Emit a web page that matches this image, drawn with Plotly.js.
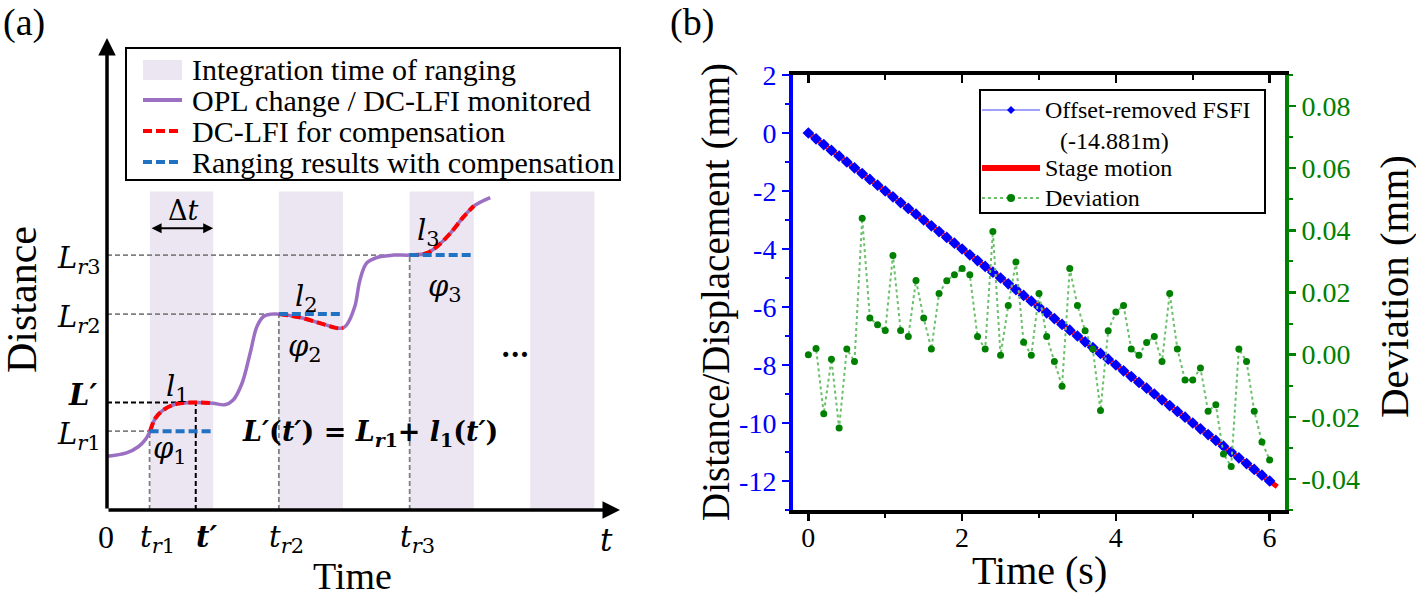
<!DOCTYPE html>
<html>
<head>
<meta charset="utf-8">
<script src="https://cdn.plot.ly/plotly-3.0.1.min.js"></script>
<style>
  html, body { margin: 0; padding: 0; background: #fff; }
  #chart { width: 1416px; height: 599px; }
</style>
</head>
<body>
<div id="chart"></div>
<script>
// ---- panel (a): schematic, OPL change vs time (arbitrary units) ----
const schemeTime = [0, 0.38, 0.61, 0.74, 0.84, 0.94, 1.10, 1.36, 1.73, 2.07, 2.30, 2.46, 2.63, 2.79, 2.92, 3.05, 3.20, 3.35,
  3.76, 4.15, 4.51, 4.60, 4.67, 4.83, 4.93, 5.06, 5.26, 5.58, 5.90, 6.23, 6.43, 6.69, 6.95, 7.15, 7.47];
const schemeDist = [1.14, 1.21, 1.34, 1.48, 1.67, 1.94, 2.12, 2.25, 2.28, 2.26, 2.23, 2.33, 2.68, 3.32, 3.88, 4.10, 4.15, 4.15,
  4.08, 3.96, 3.85, 3.86, 3.92, 4.31, 4.87, 5.23, 5.35, 5.40, 5.40, 5.44, 5.58, 5.86, 6.21, 6.44, 6.62];
const bandStart = [0.84, 3.35, 5.9, 8.25];
const bandEnd = [2.07, 4.6, 7.15, 9.5];
const bandTop = 6.75;
const rangingTime = [0.83, 3.35, 5.9];
const rangingLevel = [1.67, 4.15, 5.40];
const primeTime = 1.73;
const primeLevel = 2.28;

// ---- panel (b): measured data ----
const time = [0, 0.1, 0.2, 0.3, 0.4, 0.5, 0.6, 0.7, 0.8, 0.9, 1.0, 1.1, 1.2, 1.3, 1.4, 1.5, 1.6, 1.7, 1.8, 1.9,
  2.0, 2.1, 2.2, 2.3, 2.4, 2.5, 2.6, 2.7, 2.8, 2.9, 3.0, 3.1, 3.2, 3.3, 3.4, 3.5, 3.6, 3.7, 3.8, 3.9,
  4.0, 4.1, 4.2, 4.3, 4.4, 4.5, 4.6, 4.7, 4.8, 4.9, 5.0, 5.1, 5.2, 5.3, 5.4, 5.5, 5.6, 5.7, 5.8, 5.9, 6.0];
const fsfiDist = [0, -0.2, -0.4, -0.6, -0.8, -1.0, -1.2, -1.4, -1.6, -1.8, -2.0, -2.2, -2.4, -2.6, -2.8, -3.0, -3.2, -3.4, -3.6, -3.8,
  -4.0, -4.2, -4.4, -4.6, -4.8, -5.0, -5.2, -5.4, -5.6, -5.8, -6.0, -6.2, -6.4, -6.6, -6.8, -7.0, -7.2, -7.4, -7.6, -7.8,
  -8.0, -8.2, -8.4, -8.6, -8.8, -9.0, -9.2, -9.4, -9.6, -9.8, -10.0, -10.2, -10.4, -10.6, -10.8, -11.0, -11.2, -11.4, -11.6, -11.8, -12.0];
const stageTime = [0, 6.1];
const stageDist = [0, -12.2];
const deviation = [0.000, 0.002, -0.019, -0.0015, -0.0236, 0.0018, -0.0022, 0.0439, 0.0118, 0.0096,
  0.0078, 0.0319, 0.0078, 0.0058, 0.0239, 0.0118, 0.0018, 0.0197, 0.0238, 0.0257,
  0.0277, 0.0257, 0.0058, 0.0018, 0.0396, -0.0002, 0.0158, 0.0298, 0.0040, -0.0002,
  0.0197, 0.0058, -0.0022, -0.0102, 0.0277, 0.0158, 0.0077, 0.0018, -0.0180, 0.0077,
  0.0137, 0.0158, 0.0018, -0.0002, 0.0039, 0.0058, -0.0022, 0.0197, 0.0018, -0.0082,
  -0.0082, -0.0043, -0.0182, -0.0161, -0.0320, -0.0360, 0.0018, -0.0022, -0.0182, -0.0281, -0.0339];

const leftTicks = [2, 0, -2, -4, -6, -8, -10, -12];
const leftTickText = ['2', '0', '-2', '-4', '-6', '-8', '-10', '-12'];
const rightTicks = [0.08, 0.06, 0.04, 0.02, 0, -0.02, -0.04];
const rightTickText = ['0.08', '0.06', '0.04', '0.02', '0.00', '-0.02', '-0.04'];

// colours
const PURPLE = '#9b6fc2', BAND = '#ece6f2', DASHRED = '#ff0000', DASHBLUE = '#2272c3';
const BLUE = '#0000ff', GREEN = '#008000';

// page pixel -> paper fraction
const W = 1416, H = 599;
const px = x => x / W;
const py = y => 1 - y / H;

const serif = '"Liberation Serif", "Times New Roman", serif';
const math = '"DejaVu Serif", serif';

// ---------- traces ----------
const traces = [];

traces.push({
  x: schemeTime, y: schemeDist, xaxis: 'x2', yaxis: 'y2', type: 'scatter', mode: 'lines',
  line: { color: PURPLE, width: 3.5, shape: 'spline' }, hoverinfo: 'skip'
});

for (let i = 0; i < rangingTime.length; i++) {
  const seg = schemeTime.map((t, k) => k).filter(k => schemeTime[k] >= rangingTime[i] - 1e-9 && schemeTime[k] <= bandEnd[i] + 1e-9);
  traces.push({
    x: seg.map(k => schemeTime[k]), y: seg.map(k => schemeDist[k]), xaxis: 'x2', yaxis: 'y2',
    type: 'scatter', mode: 'lines',
    line: { color: DASHRED, width: 4, dash: '9px,4px', shape: 'spline' }, hoverinfo: 'skip'
  });
  traces.push({
    x: [rangingTime[i], bandEnd[i]], y: [rangingLevel[i], rangingLevel[i]], xaxis: 'x2', yaxis: 'y2',
    type: 'scatter', mode: 'lines',
    line: { color: DASHBLUE, width: 4, dash: '9px,4px' }, hoverinfo: 'skip'
  });
}

traces.push({
  x: time, y: deviation, xaxis: 'x', yaxis: 'y3', type: 'scatter', mode: 'lines+markers',
  line: { color: '#6cc06c', width: 2, dash: 'dot' },
  marker: { symbol: 'circle', size: 7, color: GREEN }
});
traces.push({
  x: stageTime, y: stageDist, xaxis: 'x', yaxis: 'y', type: 'scatter', mode: 'lines',
  line: { color: '#ff0000', width: 5 }
});
traces.push({
  x: time, y: fsfiDist, xaxis: 'x', yaxis: 'y', type: 'scatter', mode: 'lines+markers',
  line: { color: '#8080ff', width: 1 },
  marker: { symbol: 'diamond', size: 9, color: BLUE }
});
// empty trace so the top mirror axis gets drawn
traces.push({ x: [], y: [], xaxis: 'x3', yaxis: 'y', type: 'scatter' });

// ---------- shapes ----------
const shapes = [];
bandStart.forEach((s, i) => shapes.push({
  type: 'rect', xref: 'x2', yref: 'y2', x0: s, x1: bandEnd[i], y0: 0, y1: bandTop,
  fillcolor: BAND, line: { width: 0 }, layer: 'below'
}));
const guide = { color: '#7f7f7f', width: 1.8, dash: '5px,3px' };
rangingTime.forEach((t, i) => {
  shapes.push({ type: 'line', xref: 'x2', yref: 'y2', x0: 0, x1: t, y0: rangingLevel[i], y1: rangingLevel[i], line: guide, layer: 'below' });
  shapes.push({ type: 'line', xref: 'x2', yref: 'y2', x0: t, x1: t, y0: 0, y1: rangingLevel[i], line: guide, layer: 'below' });
});
const guideBlack = { color: '#000', width: 2, dash: '5px,3px' };
shapes.push({ type: 'line', xref: 'x2', yref: 'y2', x0: 0, x1: primeTime, y0: primeLevel, y1: primeLevel, line: guideBlack, layer: 'below' });
shapes.push({ type: 'line', xref: 'x2', yref: 'y2', x0: primeTime, x1: primeTime, y0: 0, y1: primeLevel, line: guideBlack, layer: 'below' });

// legend (a)
shapes.push({ type: 'rect', xref: 'paper', yref: 'paper', x0: px(126), x1: px(620), y0: py(180), y1: py(48), line: { color: '#000', width: 2 } });
shapes.push({ type: 'rect', xref: 'paper', yref: 'paper', x0: px(143), x1: px(182), y0: py(80), y1: py(60), fillcolor: BAND, line: { width: 0 } });
shapes.push({ type: 'line', xref: 'paper', yref: 'paper', x0: px(143), x1: px(182), y0: py(100), y1: py(100), line: { color: PURPLE, width: 4 } });
shapes.push({ type: 'line', xref: 'paper', yref: 'paper', x0: px(143), x1: px(182), y0: py(131), y1: py(131), line: { color: DASHRED, width: 4, dash: '9px,4px' } });
shapes.push({ type: 'line', xref: 'paper', yref: 'paper', x0: px(143), x1: px(182), y0: py(162), y1: py(162), line: { color: DASHBLUE, width: 4, dash: '9px,4px' } });

// legend (b)
shapes.push({ type: 'rect', xref: 'paper', yref: 'paper', x0: px(980), x1: px(1265), y0: py(213), y1: py(90), line: { color: '#000', width: 2 }, fillcolor: '#fff' });
shapes.push({ type: 'line', xref: 'paper', yref: 'paper', x0: px(982), x1: px(1040), y0: py(110), y1: py(110), line: { color: '#8080ff', width: 1.5 } });
shapes.push({ type: 'path', xref: 'paper', yref: 'paper',
  path: `M ${px(1011)} ${py(106)} L ${px(1015)} ${py(110)} L ${px(1011)} ${py(114)} L ${px(1007)} ${py(110)} Z`,
  fillcolor: BLUE, line: { width: 0 } });
shapes.push({ type: 'line', xref: 'paper', yref: 'paper', x0: px(982), x1: px(1040), y0: py(168), y1: py(168), line: { color: '#ff0000', width: 6 } });
shapes.push({ type: 'line', xref: 'paper', yref: 'paper', x0: px(982), x1: px(1040), y0: py(198), y1: py(198), line: { color: '#6cc06c', width: 2, dash: 'dot' } });
shapes.push({ type: 'circle', xref: 'paper', yref: 'paper', x0: px(1007), x1: px(1015), y0: py(202), y1: py(194), fillcolor: GREEN, line: { width: 0 } });

// ---------- annotations ----------
const ann = [];
const txt = (x, y, text, size, extra) => Object.assign({
  xref: 'paper', yref: 'paper', x: px(x), y: py(y), text: text, showarrow: false,
  xanchor: 'center', yanchor: 'middle',
  font: { family: serif, size: size, color: '#000' }
}, extra || {});

ann.push(txt(24, 23, '(a)', 38));
ann.push(txt(692, 23, '(b)', 38));

// axis arrows of the schematic
ann.push({ xref: 'x2', yref: 'y2', axref: 'x2', ayref: 'y2', x: 10, y: 0, ax: 0, ay: 0, text: '',
  showarrow: true, arrowhead: 2, arrowsize: 1, arrowwidth: 3.5, arrowcolor: '#000' });
ann.push({ xref: 'x2', yref: 'y2', axref: 'x2', ayref: 'y2', x: 0, y: 10, ax: 0, ay: 0, text: '',
  showarrow: true, arrowhead: 2, arrowsize: 1, arrowwidth: 3.5, arrowcolor: '#000' });
// Δt arrow
ann.push({ xref: 'x2', yref: 'y2', axref: 'x2', ayref: 'y2', x: bandEnd[0], y: 5.97, ax: bandStart[0], ay: 5.97, text: '',
  showarrow: true, arrowhead: 2, startarrowhead: 2, arrowside: 'end+start', arrowsize: 1, startarrowsize: 1,
  arrowwidth: 2, arrowcolor: '#000' });

const dtext = (x, y, text, size, extra) => Object.assign({
  xref: 'x2', yref: 'y2', x: x, y: y, text: text, showarrow: false,
  xanchor: 'center', yanchor: 'middle',
  font: { family: math, size: size, color: '#000' }
}, extra || {});
const sub = s => `<sub><span style="font-size:21px">${s}</span></sub>`;

rangingLevel.forEach((L, i) => ann.push(dtext(0, L, `<i>L</i>${sub('<i>r</i>' + (i + 1))}`, 29, { xanchor: 'right', xshift: -4, yshift: -5 })));
ann.push(dtext(0, primeLevel, '<b><i>L′</i></b>', 29, { xanchor: 'right', xshift: -8, yshift: 7 }));

ann.push(txt(106, 537, '0', 32));
rangingTime.forEach((t, i) => ann.push(dtext(t, 0, `<i>t</i>${sub('<i>r</i>' + (i + 1))}`, 29, { xanchor: 'left', yanchor: 'top', xshift: -12, yshift: -8 })));
ann.push(dtext(primeTime, 0, '<b><i>t′</i></b>', 29, { xanchor: 'left', yanchor: 'top', xshift: -2, yshift: -8 }));
ann.push(dtext(10, 0, '<i>t</i>', 31, { yanchor: 'top', xshift: -14, yshift: -10 }));

ann.push(dtext(1.37, 2.58, `<i>l</i>${sub('1')}`, 29));
ann.push(dtext(1.23, 1.28, `<i>φ</i>${sub('1')}`, 29));
ann.push(dtext(3.89, 4.50, `<i>l</i>${sub('2')}`, 29));
ann.push(dtext(3.86, 3.44, `<i>φ</i>${sub('2')}`, 29));
ann.push(dtext(6.26, 5.88, `<i>l</i>${sub('3')}`, 29));
ann.push(dtext(6.59, 4.71, `<i>φ</i>${sub('3')}`, 29));
ann.push(dtext(1.49, 6.34, 'Δ<i>t</i>', 27));
ann.push(dtext(5.12, 1.62, '<b><i>L′</i>(<i>t′</i>) = <i>L</i><sub><i>r</i>1</sub>+ <i>l</i><sub>1</sub>(<i>t′</i>)</b>', 27));
ann.push(dtext(7.96, 3.45, '<b>...</b>', 27));

ann.push(txt(22, 300, 'Distance', 42, { textangle: -90 }));
ann.push(txt(352, 576, 'Time', 38));

// legend (a) text
[['Integration time of ranging', 70], ['OPL change / DC-LFI monitored', 100],
 ['DC-LFI for compensation', 131], ['Ranging results with compensation', 162]].forEach(r =>
  ann.push(txt(190, r[1], r[0], 30, { xanchor: 'left' })));

// legend (b) text
[['Offset-removed FSFI', 1043, 110], ['(-14.881m)', 1058, 141], ['Stage motion', 1043, 168], ['Deviation', 1043, 198]].forEach(r =>
  ann.push(txt(r[1], r[2], r[0], 24, { xanchor: 'left' })));

// panel (b) axis titles
ann.push(txt(716, 292, 'Distance/Displacement (mm)', 39, { textangle: -90 }));
ann.push(txt(1394, 287, 'Deviation (mm)', 41, { textangle: -90 }));
ann.push(txt(1039, 570, 'Time (s)', 40));

// ---------- layout ----------
const tickFont = c => ({ family: serif, size: 28, color: c });
const xb = {
  domain: [px(793), px(1285)], range: [-0.2, 6.2], anchor: 'y',
  showline: true, linecolor: '#000', linewidth: 4, showgrid: false, zeroline: false,
  ticks: 'outside', ticklen: 7, tickwidth: 2.5, tickcolor: '#000', tick0: 0, dtick: 2,
  ticklabelstandoff: -8,
  minor: { tick0: 1, dtick: 2, ticks: 'outside', ticklen: 4, tickwidth: 2, tickcolor: '#000' },
  tickfont: tickFont('#000'), fixedrange: true
};

const layout = {
  width: W, height: H, margin: { l: 0, r: 0, t: 0, b: 0 },
  paper_bgcolor: '#fff', plot_bgcolor: 'rgba(0,0,0,0)',
  font: { family: serif, color: '#000' },
  showlegend: false,
  xaxis: xb,
  xaxis3: Object.assign({}, xb, { overlaying: 'x', side: 'top', ticks: 'inside', showticklabels: false, ticklen: 8,
    minor: { tick0: 1, dtick: 2, ticks: 'inside', ticklen: 5, tickwidth: 2, tickcolor: '#000' } }),
  yaxis: {
    domain: [py(510), py(75)], range: [-13, 2], anchor: 'x', side: 'left',
    showline: true, linecolor: BLUE, linewidth: 4, showgrid: false, zeroline: false,
    tickmode: 'array', tickvals: leftTicks, ticktext: leftTickText,
    ticks: 'outside', ticklen: 7, tickwidth: 2.5, tickcolor: BLUE,
    minor: { tickmode: 'linear', tick0: 1, dtick: 2, ticks: 'outside', ticklen: 4, tickwidth: 2, tickcolor: BLUE },
    tickfont: tickFont(BLUE), fixedrange: true
  },
  xaxis2: { domain: [px(107), px(620)], range: [0, 10], anchor: 'y2', visible: false, fixedrange: true },
  yaxis2: { domain: [py(510), py(38)], range: [0, 10], anchor: 'x2', visible: false, fixedrange: true },
  yaxis3: {
    overlaying: 'y', side: 'right', anchor: 'x', range: [-0.05, 0.09],
    showline: true, linecolor: GREEN, linewidth: 4, showgrid: false, zeroline: false,
    tickmode: 'array', tickvals: rightTicks, ticktext: rightTickText,
    ticks: 'outside', ticklen: 7, tickwidth: 2.5, tickcolor: GREEN,
    minor: { tickmode: 'linear', tick0: 0.01, dtick: 0.02, ticks: 'outside', ticklen: 4, tickwidth: 2, tickcolor: GREEN },
    tickfont: tickFont(GREEN), fixedrange: true
  },
  shapes: shapes,
  annotations: ann
};

Plotly.newPlot('chart', traces, layout, { staticPlot: true });
</script>
</body>
</html>
